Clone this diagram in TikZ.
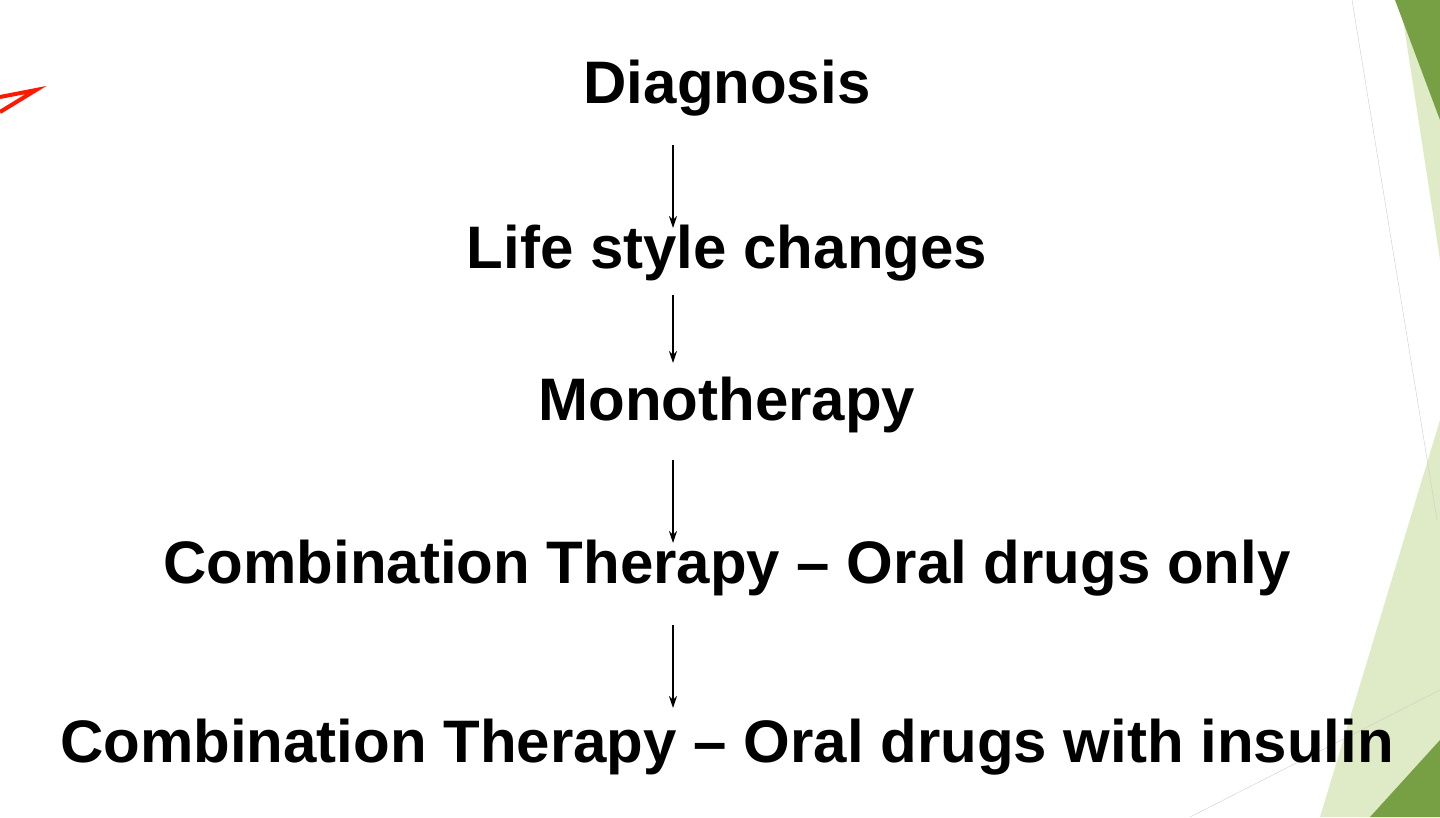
\documentclass[tikz,border=0pt]{standalone}
\usepackage{fontspec}
\setmainfont{Liberation Sans}
\usetikzlibrary{positioning,arrows.meta}
\definecolor{leafdark}{HTML}{76A043}
\definecolor{leaflight}{HTML}{DFEAC6}
\tikzset{
  step label/.style={font=\bfseries\fontsize{60}{70}\selectfont, inner sep=0pt},
  flow arrow/.style={-{Stealth[length=12pt,width=8pt]}, line width=1.6pt}
}
\begin{document}
\begin{tikzpicture}[x=1pt,y=-1pt]
    \useasboundingbox (0,0) rectangle (1440,817);
    % right hand decoration
    \fill[leaflight] (1400,0) -- (1440,0) -- (1440,260) -- cycle;
    \fill[leafdark] (1395,0) -- (1440,0) -- (1440,120) -- cycle;
    \fill[leaflight] (1320,817) -- (1440,420) -- (1440,817) -- cycle;
    \fill[leafdark] (1370,817) -- (1440,740) -- (1440,817) -- cycle;
    \draw[gray!40] (1352,0) -- (1437,520);
    \draw[gray!40] (1190,817) -- (1440,690);
    % red mark
    \draw[red!80!orange, line width=4pt] (0,97) -- (36,90) -- (0,112);
    % steps
    \node[step label] (diag) at (727,88) {Diagnosis};
    \node[step label] (life) at (727,253) {Life style changes};
    \node[step label] (mono) at (727,405) {Monotherapy};
    \node[step label] (oral) at (727,568) {Combination Therapy -- Oral drugs only};
    \node[step label] (insu) at (727,747) {Combination Therapy -- Oral drugs with insulin};
    \draw[flow arrow] ([xshift=-54pt,yshift=-57pt]diag.center) -- ([xshift=-54pt,yshift=25pt]life.center);
    \draw[flow arrow] ([xshift=-54pt,yshift=-42pt]life.center) -- ([xshift=-54pt,yshift=42pt]mono.center);
    \draw[flow arrow] ([xshift=-54pt,yshift=-55pt]mono.center) -- ([xshift=-54pt,yshift=25pt]oral.center);
    \draw[flow arrow] ([xshift=-54pt,yshift=-57pt]oral.center) -- ([xshift=-54pt,yshift=39pt]insu.center);
\end{tikzpicture}
\end{document}
